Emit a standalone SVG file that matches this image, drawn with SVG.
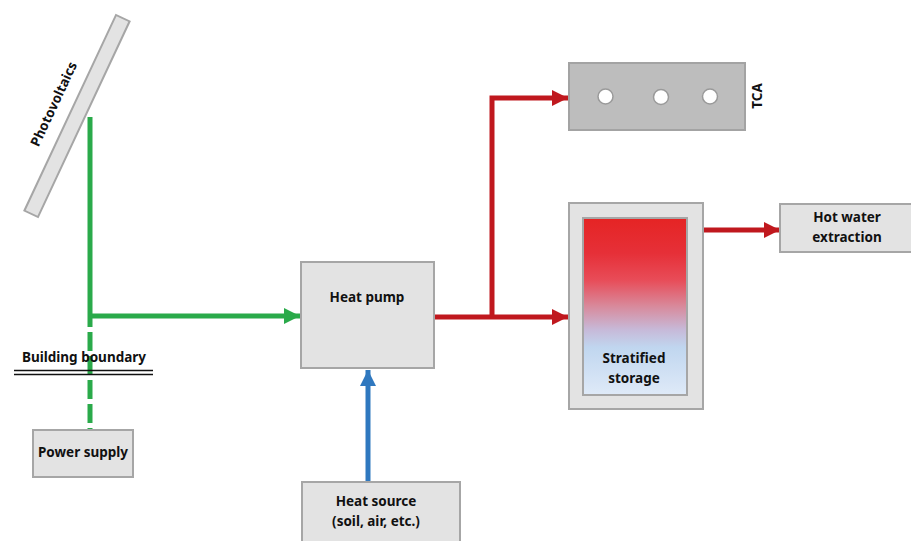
<svg xmlns="http://www.w3.org/2000/svg" width="911" height="541" viewBox="0 0 911 541">
<defs>
<style>
.box{fill:#e3e3e3;stroke:#a6a6a6;stroke-width:2}
.t{font-family:"Noto Sans","Liberation Sans",sans-serif;font-weight:bold;font-size:13.5px;fill:#111;text-anchor:middle}
.g{stroke:#2aaa4a;stroke-width:5;fill:none}
.r{stroke:#c0181e;stroke-width:5;fill:none}
.b{stroke:#2f78bf;stroke-width:5;fill:none}
</style>
<marker id="ag" markerUnits="userSpaceOnUse" markerWidth="18" markerHeight="18" refX="16" refY="9" orient="auto"><path d="M0,1 L16,9 L0,17 Z" fill="#2aaa4a"/></marker>
<marker id="ar" markerUnits="userSpaceOnUse" markerWidth="18" markerHeight="18" refX="16" refY="9" orient="auto"><path d="M0,1 L16,9 L0,17 Z" fill="#c0181e"/></marker>
<marker id="ab" markerUnits="userSpaceOnUse" markerWidth="18" markerHeight="18" refX="16" refY="9" orient="auto"><path d="M0,1 L16,9 L0,17 Z" fill="#2f78bf"/></marker>
<linearGradient id="strat" x1="0" y1="0" x2="0" y2="1">
<stop offset="0" stop-color="#e52424"/>
<stop offset="0.2" stop-color="#e63038"/>
<stop offset="0.35" stop-color="#e84c58"/>
<stop offset="0.5" stop-color="#d88a9c"/>
<stop offset="0.63" stop-color="#c7b9d8"/>
<stop offset="0.73" stop-color="#c0d6ef"/>
<stop offset="1" stop-color="#dfeaf8"/>
</linearGradient>
</defs>

<g id="connectors">
<path class="g" d="M90,117 V318"/>
<path class="g" d="M90,316 H300" marker-end="url(#ag)"/>
<path class="g" d="M90,318 V430" stroke-dasharray="19,5" stroke-dashoffset="10"/>
<path class="r" d="M434,317 H568" marker-end="url(#ar)"/>
<path class="r" d="M492,319 V98 H568" marker-end="url(#ar)"/>
<path class="r" d="M703,230 H780" marker-end="url(#ar)"/>
<path class="b" d="M368,482 V370" marker-end="url(#ab)"/>
</g>

<g id="photovoltaics">
<rect class="box" x="-108" y="-7.5" width="216" height="15" transform="translate(77,116) rotate(-64.9)"/>
<text class="t" transform="translate(58,106) rotate(-64.9)">Photovoltaics</text>
</g>

<g id="building-boundary">
<text class="t" x="84" y="362">Building boundary</text>
<path d="M14,370.5 H153 M14,374.5 H153" stroke="#111" stroke-width="1.5"/>
</g>

<g id="power-supply">
<rect class="box" x="33" y="430" width="100" height="47"/>
<text class="t" x="83" y="457">Power supply</text>
</g>

<g id="heat-pump">
<rect class="box" x="301" y="262" width="133" height="106"/>
<text class="t" x="367" y="302">Heat pump</text>
</g>

<g id="heat-source">
<rect class="box" x="302" y="482" width="158" height="70"/>
<text class="t" x="376" y="506">Heat source</text>
<text class="t" x="376" y="526">(soil, air, etc.)</text>
</g>

<g id="tca">
<rect x="569" y="63" width="176" height="67" fill="#bdbdbd" stroke="#a3a3a3" stroke-width="2"/>
<circle cx="605.5" cy="96.5" r="7.5" fill="#fff" stroke="#9a9a9a" stroke-width="1.5"/>
<circle cx="661" cy="97" r="7.5" fill="#fff" stroke="#9a9a9a" stroke-width="1.5"/>
<circle cx="710" cy="96.5" r="7.5" fill="#fff" stroke="#9a9a9a" stroke-width="1.5"/>
<text class="t" transform="translate(762,96) rotate(-90)">TCA</text>
</g>

<g id="stratified-storage">
<rect class="box" x="569" y="203" width="134" height="206"/>
<rect x="583" y="218" width="104" height="177" fill="url(#strat)" stroke="#a6a6a6" stroke-width="2"/>
<text class="t" x="634" y="363">Stratified</text>
<text class="t" x="634" y="383">storage</text>
</g>

<g id="hot-water">
<rect class="box" x="780" y="204" width="140" height="48"/>
<text class="t" x="847" y="222">Hot water</text>
<text class="t" x="847" y="242">extraction</text>
</g>
</svg>
